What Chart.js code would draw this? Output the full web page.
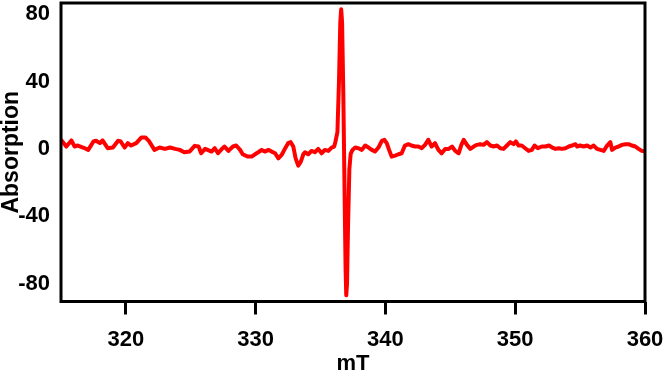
<!DOCTYPE html>
<html>
<head>
<meta charset="utf-8">
<title>EPR spectrum</title>
<script src="https://cdn.jsdelivr.net/npm/chart.js@4"></script>
<style>
    body { margin: 0; background: #fff; }
    canvas { display: block; }
</style>
</head>
<body>
<canvas id="chart" width="664" height="373"></canvas>
<script>
// field positions (mT) and absorption
const fieldMT = [
    315.0, 315.41, 315.8, 316.05, 316.3, 316.7, 317.1, 317.5, 317.7, 318.0,
    318.2, 318.6, 319.0, 319.4, 319.6, 319.9, 320.15, 320.4, 320.8, 321.2,
    321.5, 321.8, 322.2, 322.6, 323.0, 323.4, 323.8, 324.15, 324.5, 324.9,
    325.3, 325.6, 325.8, 326.1, 326.3, 326.6, 326.85, 327.1, 327.4, 327.6,
    327.9, 328.25, 328.5, 328.8, 329.0, 329.4, 329.69, 329.95, 330.2, 330.46,
    330.7, 330.98, 331.23, 331.5, 331.75, 332.0, 332.25, 332.5, 332.7, 332.9,
    333.08, 333.28, 333.48, 333.67, 333.8, 334.05, 334.3, 334.56, 334.82, 335.08,
    335.33, 335.6, 335.85, 336.05, 336.15, 336.3, 336.42, 336.52, 336.59, 336.66,
    336.75, 336.85, 336.93, 336.98, 337.04, 337.12, 337.22, 337.32, 337.46, 337.67,
    337.92, 338.18, 338.44, 338.7, 338.95, 339.2, 339.46, 339.72, 339.92, 340.1,
    340.28, 340.48, 340.75, 341.0, 341.25, 341.5, 341.77, 342.0, 342.28, 342.54,
    342.8, 343.05, 343.3, 343.56, 343.82, 344.08, 344.33, 344.6, 344.87, 345.13,
    345.38, 345.64, 345.85, 346.03, 346.28, 346.54, 346.8, 347.05, 347.3, 347.56,
    347.82, 348.08, 348.33, 348.6, 348.85, 349.1, 349.36, 349.62, 349.87, 350.05,
    350.26, 350.5, 350.77, 351.03, 351.28, 351.49, 351.74, 352.05, 352.33, 352.6,
    352.85, 353.1, 353.36, 353.6, 353.87, 354.13, 354.38, 354.64, 354.77, 355.0,
    355.28, 355.54, 355.8, 356.05, 356.3, 356.56, 356.82, 357.08, 357.33, 357.46,
    357.72, 357.97, 358.23, 358.5, 358.74, 359.0, 359.26, 359.5, 359.77, 360.0
];

const absorption = [
    5.4, 1.4, 5.0, 1.4, 2.0, 0.8, -0.6, 4.4, 4.8, 3.4,
    5.0, 0.4, 0.8, 4.8, 4.4, 0.8, 3.4, 2.0, 3.4, 6.8,
    6.8, 4.4, -0.6, 0.8, 0.0, 0.8, 0.0, -0.6, -2.0, -1.6,
    1.8, 1.4, -2.6, 0.0, -0.6, -1.6, 0.4, -2.6, 0.0, 1.4,
    -1.2, 1.4, 2.0, -0.6, -3.2, -4.6, -4.6, -3.2, -2.0, -0.6,
    -1.6, -0.6, -1.6, -2.6, -5.6, -3.6, 0.0, 3.4, 4.0, 1.4,
    -5.6, -10.0, -7.6, -3.2, -2.0, -3.2, -1.2, -2.0, 0.0, -2.6,
    -0.6, -1.2, 0.8, 1.4, 4.4, 10, 40, 75, 83, 75,
    35, -25, -72, -87, -80, -45, -12, -3, -0.6, 0.8,
    0.4, -0.6, 2.0, 0.8, -0.6, -1.6, 0.8, 4.8, 5.4, 3.4,
    -0.6, -4.6, -4.0, -3.2, -2.6, 2.0, 2.8, 2.0, 1.4, 1.4,
    0.4, 2.4, 5.4, 1.4, 3.4, -0.6, -2.6, 0.0, 0.0, 1.4,
    -1.2, -2.6, 2.4, 5.4, 2.4, 0.0, 1.4, 2.4, 2.8, 2.4,
    4.0, 2.0, 1.4, 2.0, 0.4, 0.0, 2.0, 4.0, 2.8, 4.4,
    2.0, 2.0, 0.4, -1.2, -0.6, 2.0, 0.4, 1.4, 1.4, 2.0,
    0.8, 0.0, 0.4, 0.0, 0.4, 1.4, 2.0, 2.8, 1.4, 2.0,
    1.4, 2.0, 0.8, 2.0, 0.0, -0.6, -1.2, 2.0, 4.0, -0.6,
    0.8, 1.4, 2.4, 2.8, 2.8, 2.0, 1.4, 0.0, -1.2, -1.6
];

const xTicks = [320, 330, 340, 350, 360];
const yTicks = [-80, -40, 0, 40, 80];

const fontFamily = 'Liberation Sans, Arial, sans-serif';
const tickFont = { family: fontFamily, size: 22, weight: 'bold' };

// black frame around the plot area
const frame = {
    id: 'frame',
    afterDraw(chart) {
        const { ctx, chartArea } = chart;
        ctx.save();
        ctx.strokeStyle = '#000';
        ctx.lineWidth = 3;
        ctx.strokeRect(chartArea.left, chartArea.top,
            chartArea.right - chartArea.left, chartArea.bottom - chartArea.top);
        ctx.restore();
    }
};

// keep the plot box where the reference has it
const noPadding = (axis) => {
    axis.paddingTop = 0;
    axis.paddingBottom = 0;
    axis.paddingLeft = 0;
    axis.paddingRight = 0;
};

new Chart(document.getElementById('chart'), {
    type: 'line',
    data: {
        datasets: [{
            data: fieldMT.map((x, i) => ({ x: x, y: absorption[i] })),
            borderColor: '#ff0000',
            borderWidth: 4,
            borderJoinStyle: 'round',
            pointRadius: 0,
            tension: 0,
            fill: false
        }]
    },
    options: {
        responsive: false,
        animation: false,
        layout: { padding: { top: 3, right: 19, left: 0, bottom: 0 } },
        plugins: {
            legend: { display: false },
            tooltip: { enabled: false }
        },
        scales: {
            x: {
                type: 'linear',
                min: 315,
                max: 360,
                afterBuildTicks: (axis) => { axis.ticks = xTicks.map(v => ({ value: v })); },
                afterFit: (axis) => { axis.height = 71.5; noPadding(axis); },
                grid: {
                    drawOnChartArea: false,
                    drawTicks: true,
                    tickLength: 13,
                    tickWidth: 3,
                    color: '#000'
                },
                border: { display: false },
                ticks: { color: '#000', font: tickFont, padding: 12.5, maxRotation: 0 },
                title: {
                    display: true,
                    text: 'mT',
                    color: '#000',
                    font: { family: fontFamily, size: 22, weight: 'bold', lineHeight: 1 },
                    padding: { top: 0, bottom: -2 }
                }
            },
            y: {
                min: -90.7,
                max: 86.7,
                afterBuildTicks: (axis) => { axis.ticks = yTicks.map(v => ({ value: v })); },
                afterFit: (axis) => { axis.width = 61; noPadding(axis); },
                grid: { display: false, drawTicks: false },
                border: { display: false },
                ticks: { color: '#000', font: tickFont, padding: 11 },
                title: {
                    display: true,
                    text: 'Absorption',
                    color: '#000',
                    font: { family: fontFamily, size: 23, weight: 'bold', lineHeight: 1 },
                    padding: 0
                }
            }
        }
    },
    plugins: [frame]
});
</script>
</body>
</html>
